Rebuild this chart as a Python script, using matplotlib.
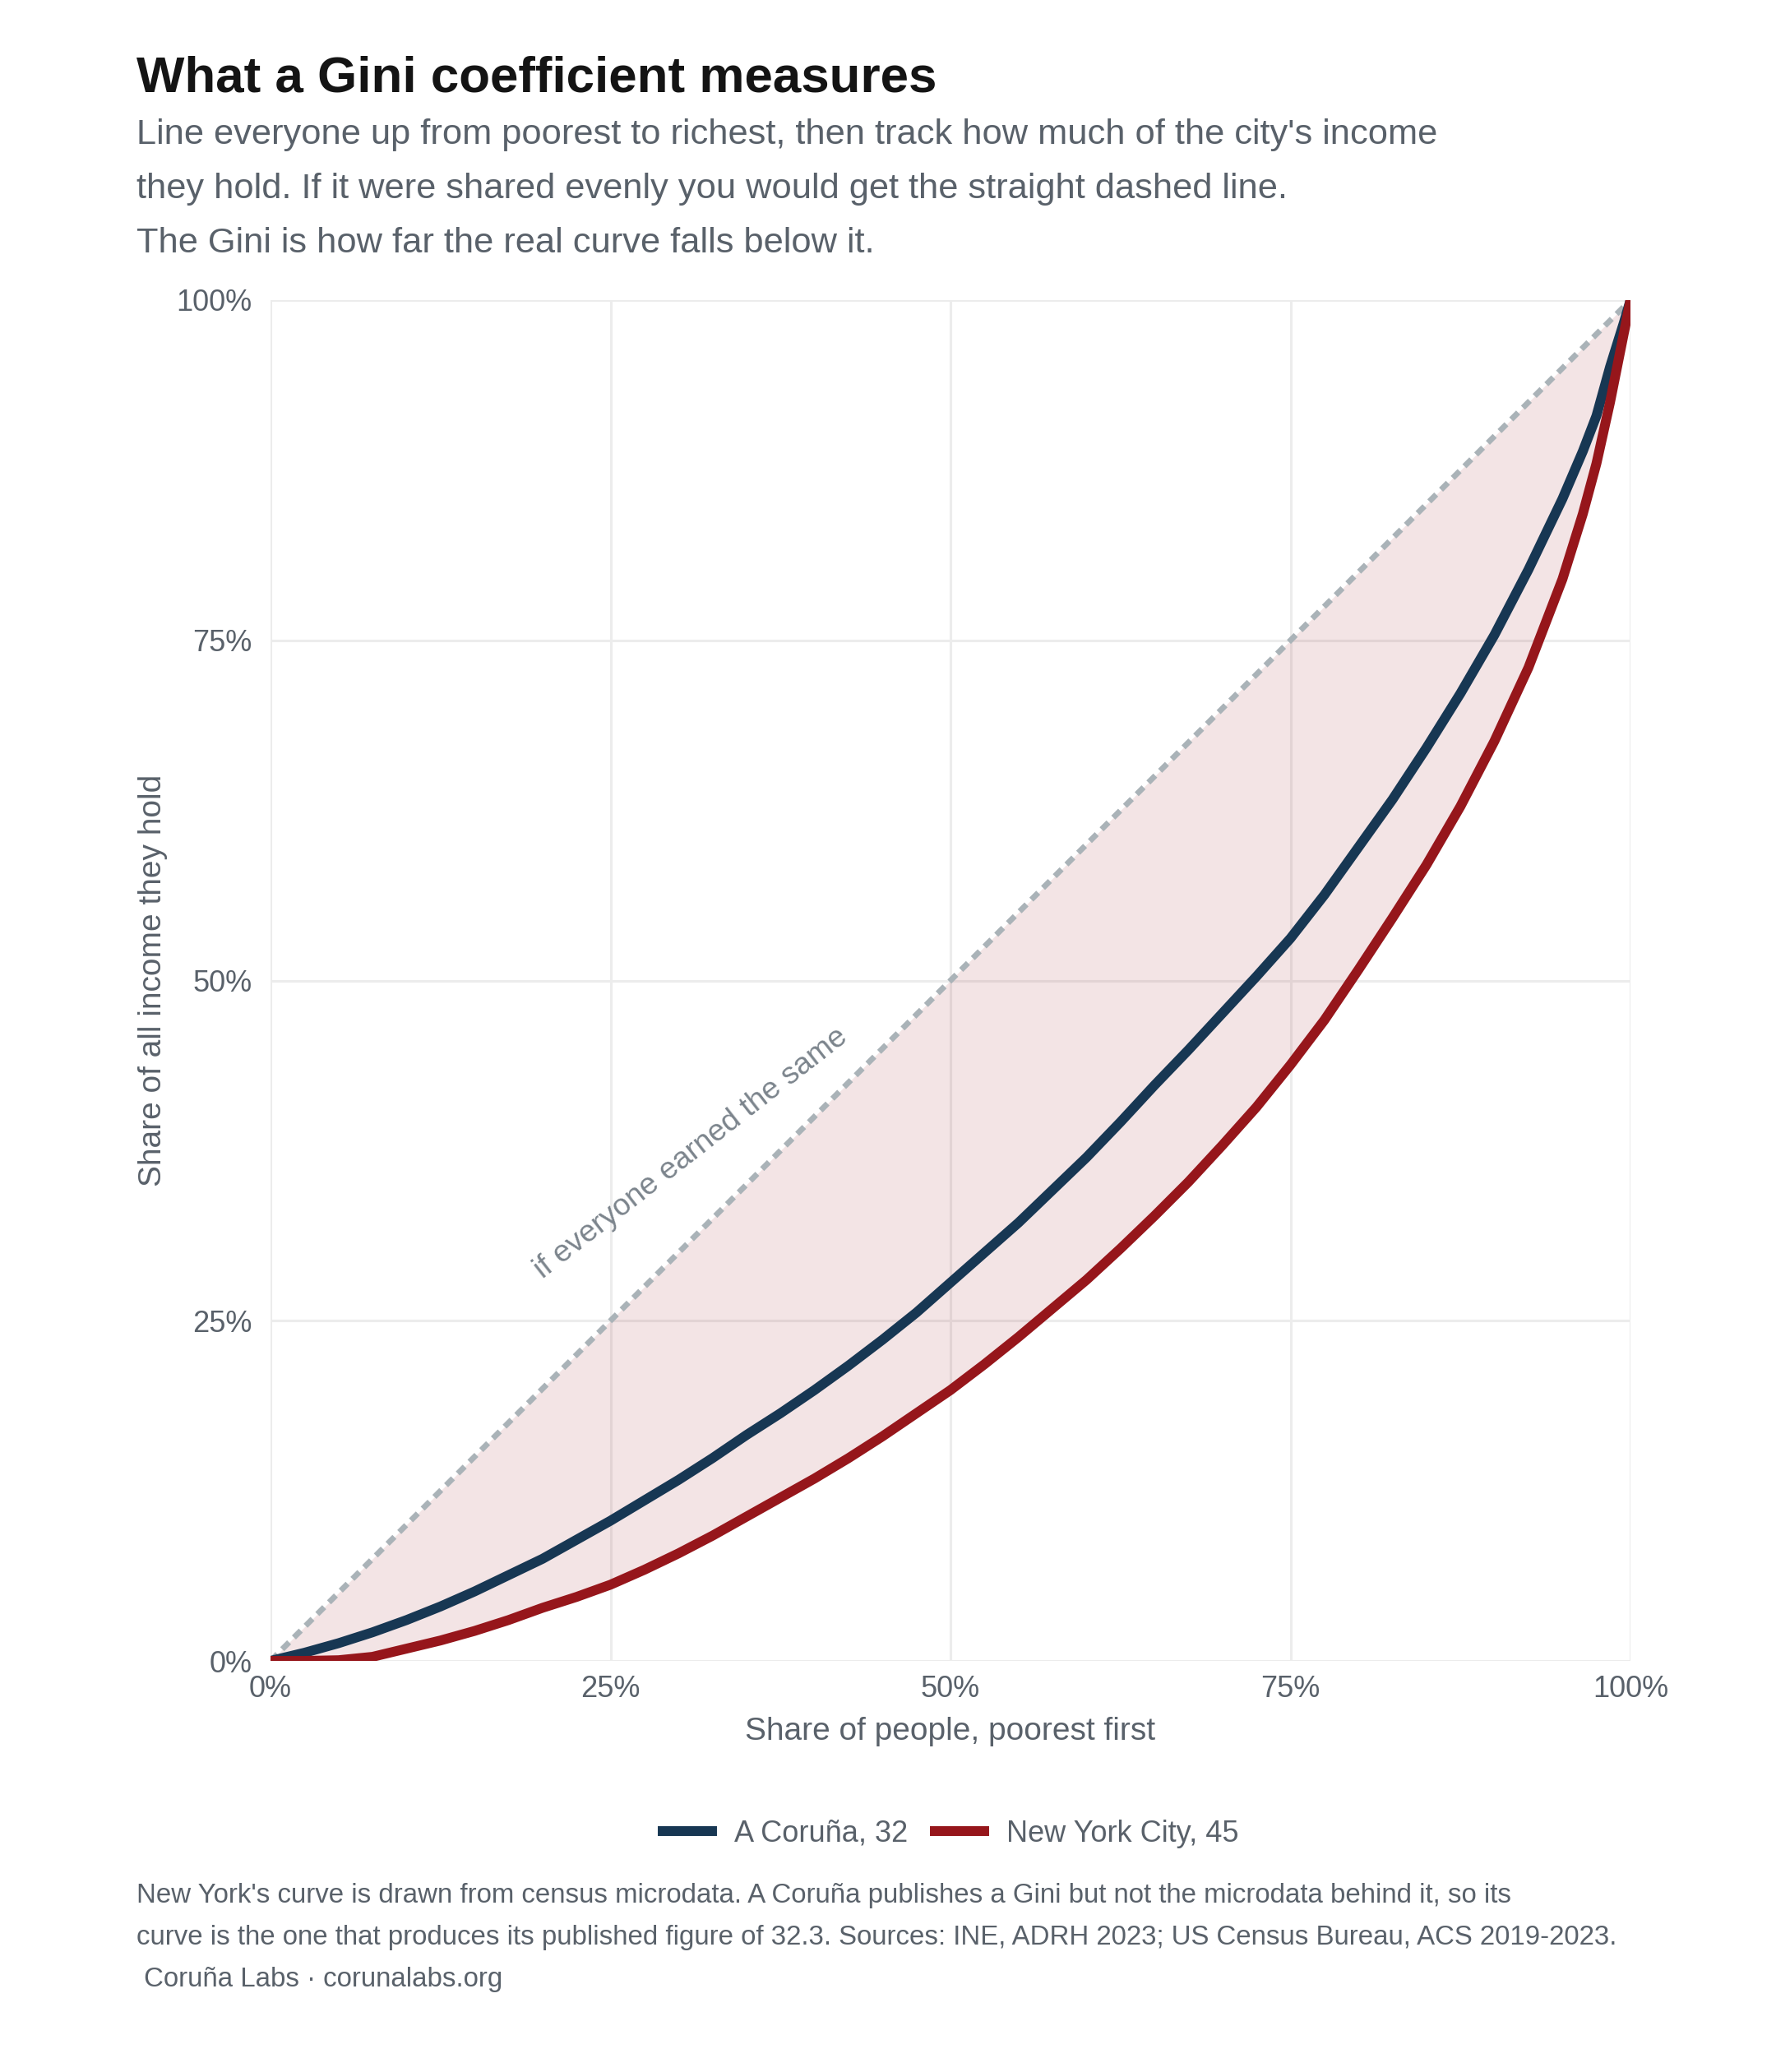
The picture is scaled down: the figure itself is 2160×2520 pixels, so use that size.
import matplotlib
matplotlib.use("Agg")
import matplotlib.pyplot as plt
from matplotlib.lines import Line2D
import numpy as np

plt.rcParams['font.family'] = ['Liberation Sans', 'DejaVu Sans']

# ---- data ----
pop_share = [0.000, 0.025, 0.050, 0.075, 0.100, 0.125, 0.150, 0.175, 0.200, 0.225,
             0.250, 0.275, 0.300, 0.325, 0.350, 0.375, 0.400, 0.425, 0.450, 0.475,
             0.500, 0.525, 0.550, 0.575, 0.600, 0.625, 0.650, 0.675, 0.700, 0.725,
             0.750, 0.775, 0.800, 0.825, 0.850, 0.875, 0.900, 0.925, 0.950, 0.965,
             0.975, 0.985, 0.995, 1.000]
coruna_income = [0.000, 0.006, 0.013, 0.021, 0.030, 0.040, 0.051, 0.063, 0.075, 0.089,
                 0.103, 0.118, 0.133, 0.149, 0.166, 0.182, 0.199, 0.217, 0.236, 0.256,
                 0.278, 0.300, 0.322, 0.346, 0.370, 0.396, 0.423, 0.449, 0.476, 0.503,
                 0.531, 0.563, 0.598, 0.633, 0.671, 0.711, 0.754, 0.802, 0.854, 0.889,
                 0.915, 0.951, 0.983, 1.000]
nyc_income = [0.000, 0.000, 0.0005, 0.003, 0.009, 0.015, 0.022, 0.030, 0.039, 0.047,
              0.056, 0.067, 0.079, 0.092, 0.106, 0.120, 0.134, 0.149, 0.165, 0.182,
              0.199, 0.218, 0.238, 0.259, 0.280, 0.303, 0.327, 0.352, 0.379, 0.407,
              0.438, 0.471, 0.508, 0.546, 0.585, 0.628, 0.676, 0.730, 0.795, 0.843,
              0.880, 0.925, 0.975, 1.000]
equality = [0.0, 1.0]
series_labels = ["A Coruña, 32", "New York City, 45"]
tick_vals = [0.0, 0.25, 0.50, 0.75, 1.0]
tick_labels = ["0%", "25%", "50%", "75%", "100%"]

NAVY = "#173753"
RED = "#96161b"
GRAY_TXT = "#59616a"
GRID = "#ececec"

W, H = 2160, 2520
fig = plt.figure(figsize=(W / 200, H / 200), dpi=200)
ax = fig.add_axes([329 / W, 1 - 2020 / H, (1983 - 329) / W, (2020 - 365) / H])

x = np.array(pop_share)
ax.fill_between(x, x, np.array(nyc_income), color=RED, alpha=0.115, linewidth=0, zorder=1)
ax.plot(equality, equality, color="#aab3b8", lw=2.5, ls=(0, (1.7, 1.2)), zorder=2)
ax.plot(pop_share, coruna_income, color=NAVY, lw=4.3, solid_capstyle='butt', zorder=3)
ax.plot(pop_share, nyc_income, color=RED, lw=4.3, solid_capstyle='butt', zorder=3)

ax.set_xlim(0, 1)
ax.set_ylim(0, 1)
ax.set_xticks(tick_vals)
ax.set_xticklabels(tick_labels)
ax.set_yticks(tick_vals)
ax.set_yticklabels(tick_labels)
ax.tick_params(length=0, labelsize=13, labelcolor=GRAY_TXT)
ax.tick_params(axis='y', pad=8)
ax.tick_params(axis='x', pad=6)
ax.grid(True, color=GRID, lw=1.1, zorder=0)
ax.set_axisbelow(True)
for s in ax.spines.values():
    s.set_visible(False)

ax.set_xlabel("Share of people, poorest first", fontsize=14, color=GRAY_TXT, labelpad=6)
ax.set_ylabel("Share of all income they hold", fontsize=14, color=GRAY_TXT, labelpad=4)

ax.text(0.309, 0.373, "if everyone earned the same", rotation=38, rotation_mode='anchor',
        ha='center', va='center', fontsize=13.4, color="#7b848c", zorder=4)

# legend
handles = [Line2D([0], [0], color=NAVY, lw=4.3), Line2D([0], [0], color=RED, lw=4.3)]
fig.legend(handles, series_labels, loc='center', bbox_to_anchor=(1156 / W, 1 - 2230 / H),
           ncol=2, frameon=False, fontsize=13, labelcolor=GRAY_TXT, handlelength=1.66,
           handletextpad=0.75, columnspacing=0.9)

# title / subtitle
fig.text(166 / W, 1 - 112 / H, "What a Gini coefficient measures", fontsize=22.3,
         fontweight='bold', color="#141414", va='baseline', ha='left')
sub = ["Line everyone up from poorest to richest, then track how much of the city's income",
       "they hold. If it were shared evenly you would get the straight dashed line.",
       "The Gini is how far the real curve falls below it."]
for i, line in enumerate(sub):
    fig.text(166 / W, 1 - (175 + 66 * i) / H, line, fontsize=15.6, color=GRAY_TXT,
             va='baseline', ha='left')

cap = ["New York's curve is drawn from census microdata. A Coruña publishes a Gini but not the microdata behind it, so its",
       "curve is the one that produces its published figure of 32.3. Sources: INE, ADRH 2023; US Census Bureau, ACS 2019-2023.",
       " Coruña Labs · corunalabs.org"]
for i, line in enumerate(cap):
    fig.text(166 / W, 1 - (2314 + 51 * i) / H, line, fontsize=11.9, color=GRAY_TXT,
             va='baseline', ha='left')

fig.savefig("out.png", dpi=200, facecolor="white")
